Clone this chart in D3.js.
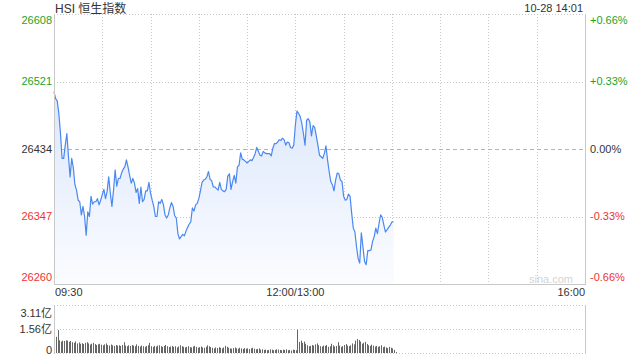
<!DOCTYPE html>
<html>
<head>
<meta charset="utf-8">
<script src="https://cdn.jsdelivr.net/npm/d3@7"></script>
<style>
  html, body { margin: 0; padding: 0; background: #fff; }
  svg { display: block; font-family: Arial, "Liberation Sans", "Noto Sans CJK SC", sans-serif; }
</style>
</head>
<body>
<svg id="chart" width="640" height="360"></svg>
<script>
// HSI intraday, one value per trading minute from 09:30 (minute 0) to 14:01
const title = "HSI 恒生指数";
const stamp = "10-28 14:01";
const preClose = 26434;

const prices = [
  26508, 26499, 26496, 26480, 26455, 26422, 26422, 26439, 26454, 26424,
  26398, 26422, 26410, 26388, 26381, 26368, 26366, 26349, 26360, 26347,
  26323, 26353, 26347, 26373, 26363, 26366, 26366, 26370, 26362, 26368,
  26375, 26382, 26370, 26379, 26398, 26377, 26360, 26381, 26407, 26386,
  26396, 26396, 26403, 26408, 26411, 26420, 26411, 26400, 26390, 26396,
  26390, 26378, 26383, 26364, 26385, 26366, 26369, 26380, 26380, 26391,
  26377, 26368, 26360, 26347, 26347, 26366, 26364, 26369, 26362, 26349,
  26345, 26349, 26358, 26365, 26360, 26348, 26345, 26325, 26318, 26321,
  26324, 26322, 26328, 26333, 26337, 26340, 26358, 26354, 26362, 26364,
  26370, 26380, 26391, 26394, 26395, 26398, 26405, 26395, 26393, 26385,
  26385, 26383, 26381, 26391, 26382, 26380, 26379, 26382, 26399, 26402,
  26382, 26392, 26400, 26390, 26411, 26413, 26429, 26421, 26420, 26418,
  26416, 26418, 26420, 26419, 26423, 26428, 26436, 26431, 26426, 26425,
  26431, 26429, 26428, 26428, 26428, 26425, 26435, 26441, 26441, 26443,
  26446, 26445, 26448, 26446, 26439, 26443, 26442, 26436, 26435, 26439,
  26465, 26483, 26480, 26476, 26467, 26454, 26439, 26471, 26473, 26469,
  26451, 26464, 26462, 26451, 26439, 26426, 26424, 26422, 26428, 26438,
  26420, 26405, 26392, 26388, 26380, 26394, 26403, 26402, 26394, 26392,
  26373, 26368, 26369, 26376, 26373, 26351, 26332, 26327, 26308, 26293,
  26287, 26326, 26308, 26289, 26285, 26303, 26303, 26304, 26315, 26321,
  26332, 26325, 26338, 26349, 26346, 26336, 26327, 26330, 26333, 26336,
  26340, 26340
];

// turnover per minute, in 亿
const volumes = [
  1.05, 1.48, 0.82, 0.74, 0.80, 0.78, 0.82, 0.80, 0.72, 0.78,
  0.70, 0.66, 0.75, 0.62, 0.68, 0.60, 0.64, 0.58, 0.66, 0.70,
  0.62, 0.55, 0.60, 0.66, 0.58, 0.52, 0.56, 0.60, 0.54, 0.50,
  0.56, 0.62, 0.52, 0.48, 0.55, 0.50, 0.46, 0.52, 0.48, 0.50,
  0.46, 0.52, 0.70, 0.48, 0.44, 0.50, 0.46, 0.52, 0.48, 0.44,
  0.56, 0.46, 0.42, 0.48, 0.44, 0.40, 0.46, 0.50, 0.66, 0.44,
  0.40, 0.46, 0.42, 0.48, 0.50, 0.44, 0.40, 0.46, 0.52, 0.44,
  0.38, 0.42, 0.46, 0.40, 0.44, 0.36, 0.42, 0.50, 0.44, 0.40,
  0.36, 0.40, 0.44, 0.38, 0.36, 0.42, 0.46, 0.40, 0.34, 0.38,
  0.42, 0.36, 0.34, 0.40, 0.50, 0.44, 0.38, 0.34, 0.30, 0.36,
  0.32, 0.38, 0.34, 0.30, 0.36, 0.46, 0.40, 0.34, 0.30, 0.28,
  0.32, 0.36, 0.30, 0.28, 0.34, 0.30, 0.26, 0.32, 0.28, 0.30,
  0.26, 0.30, 0.34, 0.28, 0.24, 0.26, 0.30, 0.22, 0.24, 0.20,
  0.22, 0.18, 0.20, 0.24, 0.22, 0.18, 0.20, 0.24, 0.22, 0.20,
  0.18, 0.22, 0.20, 0.24, 0.18, 0.20, 0.16, 0.22, 0.20, 0.18,
  1.52, 0.72, 0.80, 0.66, 0.74, 0.60, 0.50, 0.44, 0.46, 0.52,
  0.48, 0.56, 0.62, 0.50, 0.44, 0.42, 0.48, 0.46, 0.52, 0.40,
  0.44, 0.60, 0.50, 0.42, 0.46, 0.70, 0.48, 0.40, 0.44, 0.52,
  0.58, 0.48, 0.44, 0.50, 0.62, 0.56, 0.80, 0.90, 0.84, 0.74,
  0.60, 0.66, 0.72, 0.58, 0.50, 0.46, 0.54, 0.48, 0.42, 0.46,
  0.40, 0.44, 0.50, 0.38, 0.42, 0.36, 0.32, 0.40, 0.34, 0.30,
  0.20, 0.06
];

const priceTicks = [26260, 26347, 26434, 26521, 26608];
const pctLabels = ["-0.66%", "-0.33%", "0.00%", "+0.33%", "+0.66%"];
const volTicks = [0, 1.56, 3.11];
const volLabels = ["0", "1.56亿", "3.11亿"];
const timeTicks = [0, 150, 330];
const timeLabels = ["09:30", "12:00/13:00", "16:00"];

const svg = d3.select('#chart');

const left = 54, right = 585;
const x = d3.scaleLinear().domain([0, 330]).range([left, right]);
const y = d3.scaleLinear().domain([26260, 26608]).range([284, 14]);
const yv = d3.scaleLinear().domain([0, 3.11]).range([353, 305]);

const green = '#1ea31e', red = '#f03232', dark = '#333';
const colorFor = v => v > preClose ? green : (v < preClose ? red : dark);

// gradient under the line
const defs = svg.append('defs');
const grad = defs.append('linearGradient')
  .attr('id', 'fillGrad')
  .attr('gradientUnits', 'userSpaceOnUse')
  .attr('x1', 0).attr('x2', 0).attr('y1', y(26521)).attr('y2', y(26260));
grad.append('stop').attr('offset', 0).attr('stop-color', '#dae6fb');
grad.append('stop').attr('offset', 1).attr('stop-color', '#fbfcff');

// grid, price panel
const grid = svg.append('g').attr('stroke', '#c8c8c8').attr('stroke-width', 1);
d3.range(30, 330, 30).forEach(m => {
  grid.append('line')
    .attr('x1', Math.round(x(m)) + 0.5).attr('x2', Math.round(x(m)) + 0.5)
    .attr('y1', y(26608)).attr('y2', y(26260))
    .attr('stroke-dasharray', '1,2');
});
priceTicks.slice(1).forEach(v => {
  grid.append('line')
    .attr('x1', left).attr('x2', right)
    .attr('y1', Math.round(y(v)) + 0.5).attr('y2', Math.round(y(v)) + 0.5)
    .attr('stroke', v === preClose ? '#b4b4b4' : '#c8c8c8')
    .attr('stroke-dasharray', v === preClose ? '4,3' : '1,2');
});

// area + line
const area = d3.area()
  .x((d, i) => x(i))
  .y0(y(26260))
  .y1(d => y(d));
const line = d3.line()
  .x((d, i) => x(i))
  .y(d => y(d));

svg.append('path')
  .datum(prices)
  .attr('d', area)
  .attr('fill', 'url(#fillGrad)');

svg.append('path')
  .datum(prices)
  .attr('d', line)
  .attr('fill', 'none')
  .attr('stroke', '#4a88f0')
  .attr('stroke-width', 1.2)
  .attr('stroke-linejoin', 'round');

// frame, price panel
const frame = svg.append('g').attr('stroke', '#c8c8c8').attr('fill', 'none');
frame.append('line').attr('x1', left + 0.5).attr('x2', left + 0.5).attr('y1', 14).attr('y2', 284);
frame.append('line').attr('x1', right + 0.5).attr('x2', right + 0.5).attr('y1', 14).attr('y2', 284);
frame.append('line').attr('x1', left).attr('x2', right + 1).attr('y1', 284.5).attr('y2', 284.5);

// price labels
svg.append('g')
  .selectAll('text')
  .data(priceTicks)
  .join('text')
  .attr('x', 52)
  .attr('y', (d, i) => y(d) + (i === priceTicks.length - 1 ? 6 : (i === 0 ? -7 : 0)))
  .attr('dy', '0.35em')
  .attr('text-anchor', 'end')
  .attr('font-size', 11)
  .attr('fill', d => colorFor(d))
  .text(d => d);

svg.append('g')
  .selectAll('text')
  .data(priceTicks)
  .join('text')
  .attr('x', 590)
  .attr('y', (d, i) => y(d) + (i === priceTicks.length - 1 ? 6 : (i === 0 ? -7 : 0)))
  .attr('dy', '0.35em')
  .attr('font-size', 11)
  .attr('fill', d => colorFor(d))
  .text((d, i) => pctLabels[i]);

// title and time stamp
svg.append('text').attr('x', 55).attr('y', 13).attr('font-size', 12).attr('fill', dark).text(title);
svg.append('text').attr('x', 583).attr('y', 12).attr('font-size', 11).attr('fill', dark)
  .attr('text-anchor', 'end').text(stamp);

// watermark
svg.append('text').attr('x', 573).attr('y', 283).attr('font-size', 11).attr('fill', '#d4d4d4')
  .attr('text-anchor', 'end').text('sina.com');

// time labels
svg.append('g')
  .selectAll('text')
  .data(timeTicks)
  .join('text')
  .attr('x', (d, i) => i === 0 ? x(d) + 1 : x(d))
  .attr('y', 296)
  .attr('text-anchor', (d, i) => i === 0 ? 'start' : (i === timeTicks.length - 1 ? 'end' : 'middle'))
  .attr('font-size', 11)
  .attr('fill', dark)
  .text((d, i) => timeLabels[i]);

// volume panel
const vgrid = svg.append('g').attr('stroke', '#c8c8c8');
volTicks.forEach(v => {
  vgrid.append('line')
    .attr('x1', left).attr('x2', right)
    .attr('y1', Math.round(yv(v)) + 0.5).attr('y2', Math.round(yv(v)) + 0.5)
    .attr('stroke-dasharray', '1,2');
});
vgrid.append('line').attr('x1', left + 0.5).attr('x2', left + 0.5).attr('y1', yv(3.11)).attr('y2', yv(0) + 1);
vgrid.append('line').attr('x1', right + 0.5).attr('x2', right + 0.5).attr('y1', yv(3.11)).attr('y2', yv(0) + 1);

svg.append('g')
  .selectAll('rect')
  .data(volumes)
  .join('rect')
  .attr('x', (d, i) => Math.round(x(i)) + 2)
  .attr('width', 1)
  .attr('y', d => yv(d))
  .attr('height', d => yv(0) - yv(d))
  .attr('fill', '#666');

svg.append('g')
  .selectAll('text')
  .data(volTicks)
  .join('text')
  .attr('x', 52)
  .attr('y', (d, i) => yv(d) + (i === volTicks.length - 1 ? 8 : (i === 0 ? -3 : 0)))
  .attr('dy', '0.35em')
  .attr('text-anchor', 'end')
  .attr('font-size', 11)
  .attr('fill', dark)
  .text((d, i) => volLabels[i]);
</script>
</body>
</html>
